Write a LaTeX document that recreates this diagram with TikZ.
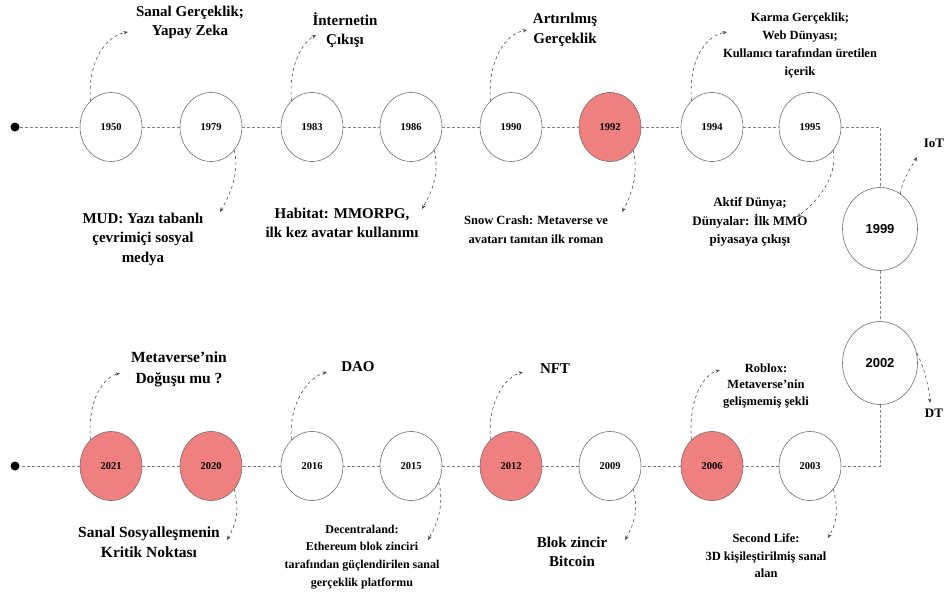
\documentclass[tikz,border=0pt]{standalone}
\usepackage{fontspec}
\setmainfont{Liberation Serif}
\newfontfamily\yearsans{Liberation Sans}
\usetikzlibrary{shapes.geometric,arrows.meta}
\definecolor{hl}{RGB}{240,128,128}
\definecolor{ring}{RGB}{110,110,110}
\begin{document}
\begin{tikzpicture}[x=1pt,y=-1pt,
  yr/.style={ellipse, draw=ring, line width=0.6pt, minimum width=62pt, minimum height=69pt, inner sep=0pt, font=\bfseries\fontsize{10.5}{12}\selectfont},
  hot/.style={yr, fill=hl},
  bigyr/.style={ellipse, draw=ring, line width=0.6pt, minimum width=75pt, minimum height=83pt, inner sep=0pt, font=\yearsans\bfseries\fontsize{13}{15}\selectfont},
  tline/.style={densely dashed, draw=gray, line width=0.6pt},
  ann/.style={align=center, inner sep=0pt, font=\bfseries\fontsize{15}{19.5}\selectfont},
  annsm/.style={align=center, inner sep=0pt, font=\bfseries\fontsize{12.5}{18}\selectfont},
  carr/.style={dashed, draw=black!70, line width=0.6pt, -{Stealth[length=4.5pt,width=3.5pt]}},
  dotnode/.style={circle, fill=black, inner sep=0pt, minimum size=9pt}
]
\useasboundingbox (0,0) rectangle (946,592);

% ---------- top row ----------
\node[dotnode] (d1) at (15,127) {};
\node[yr]  (c1950) at (111,127) {1950};
\node[yr]  (c1979) at (211,127) {1979};
\node[yr]  (c1983) at (312,127) {1983};
\node[yr]  (c1986) at (411,127) {1986};
\node[yr]  (c1990) at (511,127) {1990};
\node[hot] (c1992) at (610,127) {1992};
\node[yr]  (c1994) at (712,127) {1994};
\node[yr]  (c1995) at (810,127) {1995};
\coordinate (k1) at (880,127);
\node[bigyr] (c1999) at (880,229) {1999};
\node[bigyr] (c2002) at (880,363) {2002};
\coordinate (k2) at (880,466);

% ---------- bottom row ----------
\node[dotnode] (d2) at (15,466) {};
\node[hot] (c2021) at (111,466) {2021};
\node[hot] (c2020) at (211,466) {2020};
\node[yr]  (c2016) at (312,466) {2016};
\node[yr]  (c2015) at (411,466) {2015};
\node[hot] (c2012) at (511,466) {2012};
\node[yr]  (c2009) at (610,466) {2009};
\node[hot] (c2006) at (712,466) {2006};
\node[yr]  (c2003) at (810,466) {2003};

% timeline
\draw[tline] (d1) -- (c1950);
\draw[tline] (c1950) -- (c1979);
\draw[tline] (c1979) -- (c1983);
\draw[tline] (c1983) -- (c1986);
\draw[tline] (c1986) -- (c1990);
\draw[tline] (c1990) -- (c1992);
\draw[tline] (c1992) -- (c1994);
\draw[tline] (c1994) -- (c1995);
\draw[tline] (c1995) -- (k1) -- (c1999);
\draw[tline] (c1999) -- (c2002);
\draw[tline] (c2002) -- (k2) -- (c2003);
\draw[tline] (c2003) -- (c2006);
\draw[tline] (c2006) -- (c2009);
\draw[tline] (c2009) -- (c2012);
\draw[tline] (c2012) -- (c2015);
\draw[tline] (c2015) -- (c2016);
\draw[tline] (c2016) -- (c2020);
\draw[tline] (c2020) -- (c2021);
\draw[tline] (c2021) -- (d2);

% ---------- annotations ----------
\node[ann] (t1950) at (190,22.5) {Sanal Gerçeklik;\\Yapay Zeka};
\node[ann] (t1979) at (143,239) {MUD: Yazı tabanlı\\çevrimiçi sosyal\\medya};
\node[ann] (t1983) at (345,30) {İnternetin\\Çıkışı};
\node[ann] (t1986) at (342,223) {Habitat: MMORPG,\\ilk kez avatar kullanımı};
\node[ann] (t1990) at (565,30) {Artırılmış\\Gerçeklik};
\node[annsm, font=\bfseries\fontsize{12.5}{19}\selectfont] (t1992) at (536,229.5) {Snow Crash: Metaverse ve\\avatarı tanıtan ilk roman};
\node[annsm, font=\bfseries\fontsize{12.5}{18}\selectfont] (t1994) at (800,45) {Karma Gerçeklik;\\Web Dünyası;\\Kullanıcı tarafından üretilen\\içerik};
\node[annsm, font=\bfseries\fontsize{13}{18.5}\selectfont] (t1995) at (750,222) {Aktif Dünya;\\Dünyalar: İlk MMO\\piyasaya çıkışı};
\node[annsm, font=\bfseries\fontsize{13}{15}\selectfont] (tIoT) at (934,143) {IoT};
\node[annsm, font=\bfseries\fontsize{13}{15}\selectfont] (tDT) at (934,413) {DT};

\node[ann, font=\bfseries\fontsize{15.5}{21}\selectfont] (t2021) at (179,369) {Metaverse'nin\\Doğuşu mu ?};
\node[ann, font=\bfseries\fontsize{15.5}{20}\selectfont] (t2020) at (149,542) {Sanal Sosyalleşmenin\\Kritik Noktası};
\node[ann] (t2016) at (358,367) {DAO};
\node[annsm, font=\bfseries\fontsize{12}{17.8}\selectfont] (t2015) at (362,557) {Decentraland:\\Ethereum blok zinciri\\tarafından güçlendirilen sanal\\gerçeklik platformu};
\node[ann] (t2012) at (555,369) {NFT};
\node[ann] (t2009) at (572,552) {Blok zincir\\Bitcoin};
\node[annsm, font=\bfseries\fontsize{12.5}{16.5}\selectfont] (t2006) at (766,386) {Roblox:\\Metaverse'nin\\gelişmemiş şekli};
\node[annsm, font=\bfseries\fontsize{12.5}{17.5}\selectfont] (t2003) at (766,556) {Second Life:\\3D kişileştirilmiş sanal\\alan};

% arrow end points
\coordinate (e1950) at (128,32);
\coordinate (e1979) at (220,212);
\coordinate (e1983) at (316,35);
\coordinate (e1986) at (422,209);
\coordinate (e1990) at (527,30);
\coordinate (e1992) at (622,212);
\coordinate (e1994) at (727,32);
\coordinate (e1995) at (797,217);
\coordinate (e1999) at (917,157);
\coordinate (e2002) at (930,403);
\coordinate (e2021) at (120,373);
\coordinate (e2020) at (227,540);
\coordinate (e2016) at (327,372);
\coordinate (e2015) at (428,540);
\coordinate (e2012) at (523,372);
\coordinate (e2009) at (625,540);
\coordinate (e2006) at (720,370);
\coordinate (e2003) at (828,538);

% up-left arrows
\draw[carr] (c1950.128) .. controls +(-3,-40) and +(-22,4) .. (e1950);
\draw[carr] (c1983.128) .. controls +(-3,-35) and +(-14,8) .. (e1983);
\draw[carr] (c1990.128) .. controls +(-3,-40) and +(-22,4) .. (e1990);
\draw[carr] (c1994.128) .. controls +(-3,-40) and +(-22,4) .. (e1994);
\draw[carr] (c2021.128) .. controls +(-3,-35) and +(-20,6) .. (e2021);
\draw[carr] (c2016.128) .. controls +(-3,-35) and +(-20,6) .. (e2016);
\draw[carr] (c2012.128) .. controls +(-3,-35) and +(-20,6) .. (e2012);
\draw[carr] (c2006.128) .. controls +(-3,-35) and +(-20,6) .. (e2006);

% down-right arrows
\draw[carr] (c1979.-45) .. controls +(6,25) and +(8,-14) .. (e1979);
\draw[carr] (c1986.-45) .. controls +(6,25) and +(8,-14) .. (e1986);
\draw[carr] (c1992.-45) .. controls +(6,25) and +(8,-14) .. (e1992);
\draw[carr] (c1995.-45) .. controls +(5,30) and +(16,-12) .. (e1995);
\draw[carr] (c2020.-45) .. controls +(6,22) and +(8,-14) .. (e2020);
\draw[carr] (c2015.-30) .. controls +(6,25) and +(8,-14) .. (e2015);
\draw[carr] (c2009.-45) .. controls +(6,22) and +(8,-14) .. (e2009);
\draw[carr] (c2003.-45) .. controls +(6,22) and +(8,-14) .. (e2003);

% side arrows
\draw[carr] (c1999.60) .. controls +(2,-15) and +(-5,9) .. (e1999);
\draw[carr] (c2002.15) .. controls +(8,15) and +(-1,-15) .. (e2002);
\end{tikzpicture}
\end{document}
